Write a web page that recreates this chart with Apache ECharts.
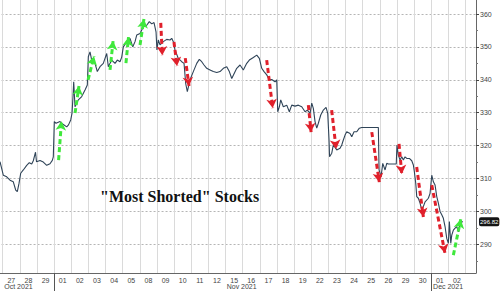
<!DOCTYPE html>
<html><head><meta charset="utf-8">
<script src="https://cdn.jsdelivr.net/npm/echarts@6/dist/echarts.min.js"></script>
<style>html,body{margin:0;padding:0;background:#fff}#c{width:500px;height:291px}</style>
</head><body><div id="c"></div>
<script>
// ---- data ----
const dayLabels = ['27','28','29','01','02','03','04','05','08','09','10','11','12','15','16','17','18','19','22','23','24','25','26','29','30','01','02'];
const monthLabels = ['Oct 2021','Nov 2021','Dec 2021'];
const monthLabelAt = [0.92, 13.94, 25.98];   // day index where each month label sits
const monthBreaks = [3, 25];                // day index where a new month starts
const yTickValues = [290,300,310,320,330,340,350,360];
const yMinorTicks = [285,295,305,315,325,335,345,355];
// time = trading-day index (0 = Oct 27 open, fractional = intraday)
const priceTimes = [
 -0.158,0.035,0.233,0.426,0.618,0.758,0.852,0.951,
 1.050,1.202,1.400,1.552,1.692,1.785,1.914,1.972,
 2.176,2.369,2.567,2.760,2.894,2.952,
 3.010,3.110,3.343,3.518,3.734,3.839,3.967,
 4.043,4.101,4.142,4.218,4.411,4.609,4.802,4.936,
 4.994,5.093,5.193,5.385,5.519,5.677,5.869,5.968,
 6.068,6.161,6.359,6.552,6.686,6.843,6.943,
 7.036,7.235,7.427,7.585,7.719,7.818,
 8.011,8.203,8.401,8.553,8.693,8.827,8.944,
 8.997,9.078,9.177,9.370,9.568,9.761,9.860,9.953,
 10.052,10.245,10.443,10.578,10.677,10.770,10.928,
 11.120,11.319,11.470,11.610,11.744,11.902,
 12.095,12.287,12.486,12.678,12.871,
 13.069,13.221,13.361,13.454,13.652,13.845,
 14.037,14.236,14.387,14.621,14.819,14.971,
 15.111,15.245,15.403,15.554,15.694,15.887,15.986,
 16.044,16.138,16.219,16.371,16.569,16.721,16.861,
 17.054,17.246,17.445,17.637,17.771,17.929,
 18.028,18.121,18.221,18.320,18.413,18.553,18.705,18.862,18.961,
 19.037,19.067,19.195,19.288,19.487,19.679,19.778,19.872,19.971,
 20.070,20.263,20.362,20.496,20.654,20.805,20.945,
 21.914,21.955,
 22.071,22.170,22.305,22.404,22.497,22.958,
 22.999,23.080,23.179,23.279,23.372,23.471,23.571,23.722,23.862,23.956,
 24.014,24.096,24.154,24.247,24.347,24.446,24.539,24.639,24.831,24.930,
 25.029,25.123,25.222,25.321,25.414,25.513,25.613,25.706,25.805,25.904,25.998,
 26.056,26.138,26.196,26.290,26.389,26.488,26.581,26.680,26.779,26.838
];
const priceValues = [
 315.1,311.0,310.5,309.5,309.0,306.5,306.0,308.5,
 311.6,312.6,314.0,314.8,314.4,315.4,318.0,315.1,
 315.5,315.0,314.0,314.5,315.5,316.6,
 327.3,326.8,327.3,326.5,325.7,326.3,327.8,
 329.8,334.9,339.4,331.8,333.9,334.9,336.9,338.4,
 347.0,348.5,346.0,345.0,342.5,344.0,345.0,346.5,
 348.0,344.0,346.0,345.0,346.0,345.5,346.9,
 350.0,351.6,352.6,350.0,351.6,353.6,
 354.1,356.1,356.6,357.7,357.0,357.4,354.6,
 349.1,352.1,350.6,351.6,352.3,352.1,352.6,351.6,
 349.1,346.5,345.5,345.0,338.8,336.4,340.0,
 342.5,345.0,346.2,345.5,344.5,343.5,
 343.0,342.5,342.2,342.5,343.5,
 344.0,342.5,340.4,341.4,343.5,344.5,
 343.0,345.0,346.0,346.8,347.5,346.5,
 343.5,342.5,341.5,340.0,340.1,339.4,340.0,
 330.3,331.8,333.9,331.8,332.3,330.3,332.3,
 332.0,332.3,331.8,330.3,330.8,329.8,
 332.9,331.3,327.3,325.3,326.8,329.3,330.8,331.6,329.8,
 321.7,316.6,317.7,320.2,318.7,319.2,320.2,321.7,323.2,
 324.2,323.7,322.7,324.2,324.2,325.3,325.5,
 325.5,312.6,
 310.5,314.6,312.6,314.6,314.4,314.4,
 320.2,317.1,315.6,316.6,315.6,316.6,316.1,316.1,315.4,314.1,
 312.1,308.5,304.5,304.0,302.5,300.4,301.5,302.9,304.0,305.5,
 311.0,309.0,308.0,304.5,302.5,300.0,299.0,297.9,295.4,291.8,290.3,
 296.9,290.3,292.8,294.3,294.9,295.4,293.8,295.9,296.9,296.82
];
const lastPrice = 296.82;
// annotation arrows: [startTime, startValue, endTime, endValue]
const upArrows = [
 [3.26,315.6,3.43,327.4],
 [4.22,329.9,4.45,338.1],
 [4.98,340.0,5.33,347.2],
 [6.26,343.0,6.44,351.8],
 [7.19,345.1,7.34,353.0],
 [8.01,350.6,8.24,358.5],
 [26.29,286.7,26.72,297.6]
];
const downArrows = [
 [9.22,357.3,9.31,347.5],
 [9.99,351.5,10.17,344.2],
 [10.65,346.6,10.87,338.1],
 [15.40,346.0,15.75,331.4],
 [17.83,332.3,17.99,324.1],
 [19.19,330.8,19.45,319.0],
 [21.53,324.1,21.97,308.9],
 [23.12,320.5,23.28,311.4],
 [24.15,313.5,24.54,298.3],
 [25.03,308.0,25.80,287.3]
];
const chartTitle = '"Most Shorted" Stocks';

// ---- chart ----
const X_MIN = -1, X_MAX = 27.61, Y_MIN = 281.28, Y_MAX = 364.26;
const chart = echarts.init(document.getElementById('c'), null, {renderer: 'svg'});
const arrowData = list => list.map(a => [{coord: [a[0], a[1]]}, {coord: [a[2], a[3]]}]);
const arrowMark = (list, color) => ({
  silent: true, animation: false,
  symbol: ['none', 'arrow'], symbolSize: [8, 9],
  label: {show: false},
  lineStyle: {color: color, width: 3, type: [5, 3], opacity: 1},
  emphasis: {disabled: true},
  data: arrowData(list)
});
const labelFont = 'Liberation Sans';
chart.setOption({
  animation: false,
  backgroundColor: '#ffffff',
  title: {
    text: chartTitle, left: 100, top: 188, padding: 0,
    textStyle: {fontFamily: 'Liberation Serif', fontWeight: 'bold', fontSize: 16, color: '#111'}
  },
  grid: {left: -14.44, right: 24, top: 0, bottom: 18, containLabel: false, outerBoundsMode: 'none'},
  xAxis: [{
    type: 'value', min: X_MIN, max: X_MAX, interval: 1, position: 'bottom',
    axisLine: {show: true, onZero: false, lineStyle: {color: '#666', width: 1}},
    axisTick: {show: false},
    splitLine: {show: true, lineStyle: {color: '#dadada', width: 1}},
    axisLabel: {
      customValues: dayLabels.map((_, i) => i + 0.5),
      formatter: v => dayLabels[Math.floor(v)] || '',
      fontSize: 7, color: '#444', fontFamily: labelFont, margin: 4
    }
  }, {
    type: 'value', min: X_MIN, max: X_MAX, position: 'bottom', gridIndex: 0,
    axisLine: {show: false, onZero: false},
    axisTick: {show: true, customValues: monthBreaks, length: 18, inside: false, lineStyle: {color: '#555', width: 1}},
    splitLine: {show: false},
    axisLabel: {
      customValues: monthLabelAt,
      formatter: v => { let b = 0; monthLabelAt.forEach((m, i) => { if (Math.abs(m - v) < Math.abs(monthLabelAt[b] - v)) b = i; }); return monthLabels[b]; },
      fontSize: 7, color: '#444', fontFamily: labelFont, margin: 10
    }
  }],
  yAxis: [{
    type: 'value', position: 'right', min: Y_MIN, max: Y_MAX,
    axisLine: {show: true, onZero: false, lineStyle: {color: '#666', width: 1}},
    axisTick: {show: true, customValues: yTickValues, length: 3, inside: false, lineStyle: {color: '#444'}},
    splitLine: {show: true, lineStyle: {color: '#b5b5b5', width: 1, type: [2, 2]}},
    axisLabel: {customValues: yTickValues, fontSize: 7, color: '#444', fontFamily: labelFont, margin: 4}
  }, {
    type: 'value', position: 'right', min: Y_MIN, max: Y_MAX,
    axisLine: {show: false, onZero: false},
    axisTick: {show: true, customValues: yMinorTicks, length: 2, inside: false, lineStyle: {color: '#777'}},
    splitLine: {show: false},
    axisLabel: {show: false}
  }, {
    type: 'value', position: 'right', min: Y_MIN, max: Y_MAX,
    axisLine: {show: false, onZero: false},
    axisTick: {show: false, customValues: [lastPrice]},
    splitLine: {show: false},
    axisLabel: {
      customValues: [lastPrice], formatter: v => v.toFixed(2),
      fontSize: 6, color: '#fff', fontFamily: labelFont, margin: 3,
      backgroundColor: '#151515', padding: [2, 1, 1, 1], borderRadius: 2
    }
  }],
  series: [{
    type: 'line', xAxisIndex: 0, yAxisIndex: 0, z: 3,
    data: priceTimes.map((t, i) => [t, priceValues[i]]),
    showSymbol: false, symbol: 'none',
    lineStyle: {color: '#2f4458', width: 1.1}
  }, {
    type: 'line', xAxisIndex: 0, yAxisIndex: 0, z: 5, data: [],
    markLine: arrowMark(downArrows, '#e0202b')
  }, {
    type: 'line', xAxisIndex: 0, yAxisIndex: 0, z: 5, data: [],
    markLine: arrowMark(upArrows, '#3fe83c')
  }]
});
</script></body></html>
